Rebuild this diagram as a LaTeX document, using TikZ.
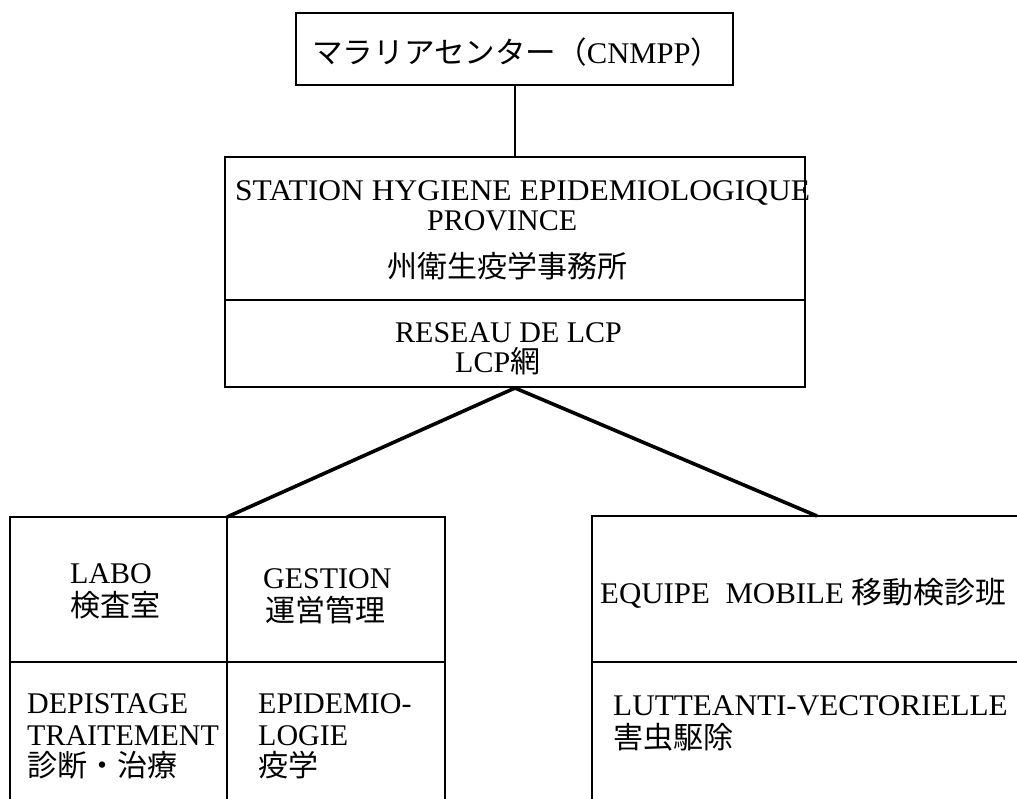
\documentclass[tikz,border=0pt]{standalone}
\usepackage{fontspec}
\setmainfont{Liberation Serif}
\newfontfamily\jp{Noto Sans CJK JP}
\begin{document}
\begin{tikzpicture}[x=1pt,y=-1pt,
  box/.style={draw, line width=2pt, rectangle, inner sep=0pt},
  txt/.style={anchor=base west, inner sep=0pt, font=\fontsize{30}{30}\selectfont},
  conn/.style={line width=3.6pt},
  frame/.style={line width=2pt}]
\useasboundingbox (0,0) rectangle (1017,798);

% top box
\node[box, minimum width=437pt, minimum height=72pt] (cnmpp) at (514.5,49) {};
\node[txt] (cnmppt) at (312,63) {\scalebox{1.02}[1]{{\jp マラリアセンター（}CNMPP{\jp ）}}};

% middle box
\node[box, minimum width=580pt, minimum height=143pt] (station) at (515,228.5) {};
\node[box, minimum width=580pt, minimum height=87pt] (reseau) at (515,343.5) {};
\node[txt] (st1) at (235,200) {\scalebox{1.05}[1]{STATION HYGIENE EPIDEMIOLOGIQUE}};
\node[txt] (st2) at (427,230) {PROVINCE};
\node[txt] (st3) at (387,277) {\jp 州衛生疫学事務所};
\node[txt] (re1) at (395,342) {RESEAU DE LCP};
\node[txt] (re2) at (455,372) {LCP{\jp 網}};

\draw[frame] (cnmpp.south -| station.north) -- (station.north);

% left table frame
\coordinate (ltl) at (10,517);
\coordinate (ltm) at (227,517);
\coordinate (ltr) at (445,517);
\draw[frame] (10,800) -- (ltl) -- (ltr) -- (445,800);
\draw[frame] (ltm) -- (227,800);
\draw[frame] (10,662) -- (445,662);

% right table frame
\coordinate (rtl) at (592,516);
\coordinate (rtj) at (817,516);
\draw[frame] (592,800) -- (rtl) -- (1020,516);
\draw[frame] (592,662) -- (1020,662);

% connectors
\draw[conn, line join=miter] (ltm) -- (reseau.south) -- (rtj);

% left table texts
\node[txt] (labo) at (70,583) {LABO};
\node[txt] (laboj) at (70,616) {\jp 検査室};
\node[txt] (gest) at (263,588) {GESTION};
\node[txt] (gestj) at (265,621) {\jp 運営管理};
\node[txt] (dep1) at (27,713) {DEPISTAGE};
\node[txt] (dep2) at (27,745) {TRAITEMENT};
\node[txt] (dep3) at (27,776) {\jp 診断・治療};
\node[txt] (epi1) at (258,713) {EPIDEMIO-};
\node[txt] (epi2) at (258,745) {LOGIE};
\node[txt] (epi3) at (258,776) {\jp 疫学};

% right table texts
\node[txt] (mob) at (600,603) {\scalebox{1.03}[1]{EQUIPE\ \ MOBILE {\jp 移動検診班}}};
\node[txt] (lav1) at (613,715) {\scalebox{1.04}[1]{LUTTEANTI-VECTORIELLE}};
\node[txt] (lav2) at (613,748) {\jp 害虫駆除};
\end{tikzpicture}
\end{document}
